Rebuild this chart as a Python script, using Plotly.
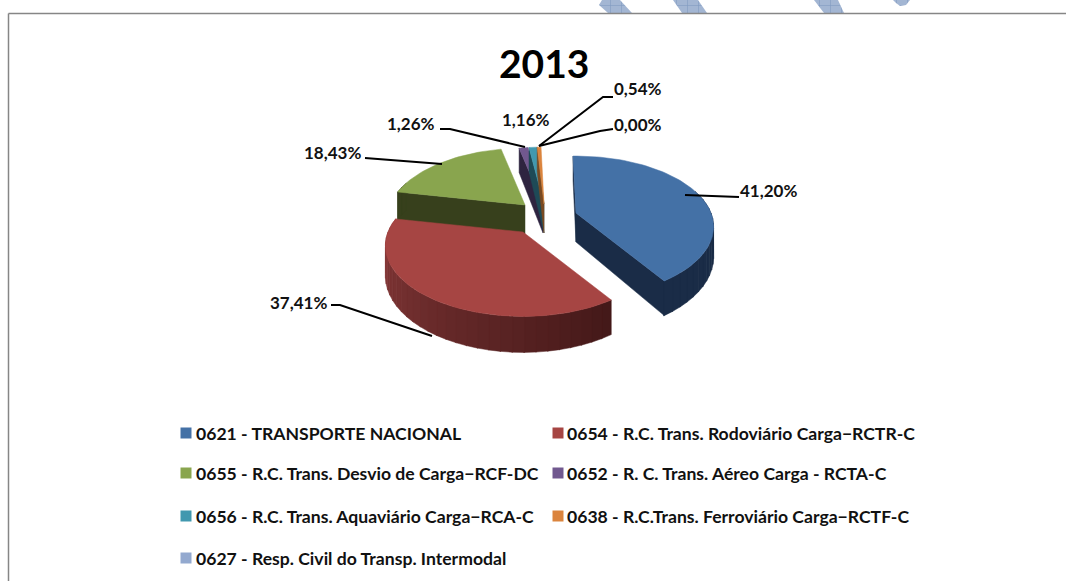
import math
import plotly.graph_objects as go

categories = ["0621 - TRANSPORTE NACIONAL", "0654 - R.C. Trans. Rodoviário Carga−RCTR-C",
              "0655 - R.C. Trans. Desvio de Carga−RCF-DC", "0652 - R. C. Trans. Aéreo Carga - RCTA-C",
              "0656 - R.C. Trans. Aquaviário Carga−RCA-C", "0638 - R.C.Trans. Ferroviário Carga−RCTF-C",
              "0627 - Resp. Civil do Transp. Intermodal"]
values = [41.20, 37.41, 18.43, 1.26, 1.16, 0.54, 0.00]
value_labels = ["41,20%", "37,41%", "18,43%", "1,26%", "1,16%", "0,54%", "0,00%"]
colors = ["#4471a6", "#a64543", "#89a54e", "#71588f", "#4198af", "#db843d", "#93a9cf"]
dark = ["#1a2c47", "#431818", "#37401c", "#2e2440", "#1e4a57", "#7a4a22", "#3c4660"]
wall_left = ["#1a2c47", "#8f3d3d", "#37401c", "#2e2440", "#1e4a57", "#7a4a22", "#3c4660"]
title = "2013"

# projection of the 3-D pie
apex = [(576, 213), (523, 232), (525, 205), (543, 204), (544, 204), (544, 204), (545, 204)]
R, RY, P, DEPTH, START = 135, 68, 0.1945, 29, -1.5
FONT = "Lato"


def proj(i, deg, down=False):
    t = math.radians(deg)
    u, v = math.sin(t), math.cos(t)
    s = 1 / (1 + P * v)
    cx, cy = apex[i]
    return cx + R * u * s, cy - RY * v * s + (DEPTH * s if down else 0)


def hexmix(a, b, f):
    ca = [int(a[k:k + 2], 16) for k in (1, 3, 5)]
    cb = [int(b[k:k + 2], 16) for k in (1, 3, 5)]
    return "#" + "".join(f"{round(x + (y - x) * f):02x}" for x, y in zip(ca, cb))


fig = go.Figure()


def poly(pts, color):
    fig.add_trace(go.Scatter(x=[p[0] for p in pts] + [pts[0][0]], y=[p[1] for p in pts] + [pts[0][1]],
                             mode="lines", fill="toself", fillcolor=color,
                             line=dict(color=color, width=0.5), hoverinfo="skip", showlegend=False))


# cumulative angles
angles = [START]
for val in values:
    angles.append(angles[-1] + val * 3.6)

for i in [2, 3, 4, 5, 0, 1]:
    a0, a1 = angles[i], angles[i + 1]
    ax, ay = apex[i]
    # cut faces
    if math.sin(math.radians(a0)) < 0:
        poly([(ax, ay), proj(i, a0), proj(i, a0, True), (ax, ay + DEPTH)], dark[i])
    if math.sin(math.radians(a1)) > 0:
        poly([(ax, ay), proj(i, a1), proj(i, a1, True), (ax, ay + DEPTH)], dark[i])
    # outer wall, front part only, shaded by position
    lo, hi = max(a0, 70), min(a1, 290)
    if hi > lo:
        n = max(2, int((hi - lo) / 4))
        for k in range(n):
            d0 = lo + (hi - lo) * k / n
            d1 = lo + (hi - lo) * (k + 1) / n + 0.3
            col = hexmix(dark[i], wall_left[i], (k + 0.5) / n)
            poly([proj(i, d0), proj(i, d1), proj(i, d1, True), proj(i, d0, True)], col)
    # top face
    m = max(4, int((a1 - a0) / 2))
    arc = [proj(i, a0 + (a1 - a0) * k / m) for k in range(m + 1)]
    poly([(ax, ay)] + arc, colors[i])

# legend
leg_pos = [(186, 433), (558, 433), (186, 473), (558, 473), (186, 516), (558, 516), (186, 558)]
for (x, y), c, name in zip(leg_pos, colors, categories):
    fig.add_trace(go.Scatter(x=[x], y=[y], mode="markers", hoverinfo="skip", showlegend=False,
                             marker=dict(symbol="square", size=11, color=c)))
    fig.add_annotation(x=x + (8 if x < 300 else 7), y=y, text=f"<b>{name}</b>", showarrow=False, xanchor="left",
                       xref="x", yref="y", font=dict(family=FONT, size=17.6, color="#111111"))

# value labels
lab_pos = [(768, 190), (298, 302), (332, 152), (411, 123), (526, 119), (638, 88), (638, 124)]
for (x, y), t in zip(lab_pos, value_labels):
    fig.add_annotation(x=x, y=y, text=f"<b>{t}</b>", showarrow=False, xref="x", yref="y",
                       font=dict(family=FONT, size=17, color="#111111"))

# leader lines
leaders = [[(685, 195), (717, 196), (739, 197)],
           [(331, 305), (340, 305), (432, 336)],
           [(365, 158), (442, 164)],
           [(440, 129), (450, 129), (525, 147)],
           [(613, 97), (603, 97), (539, 146)],
           [(613, 129), (600, 131), (539, 146)]]
for pts in leaders:
    fig.add_trace(go.Scatter(x=[p[0] for p in pts], y=[p[1] for p in pts], mode="lines",
                             line=dict(color="#000000", width=2), hoverinfo="skip", showlegend=False))

fig.add_annotation(x=544, y=63, text=f"<b>{title}</b>", showarrow=False, xref="x", yref="y",
                   font=dict(family=FONT, size=39, color="#000000"))

# hatched strokes cut off by the top of the frame
strokes = [[(602, 0), (620, 0), (632, 13), (608, 13), (599, 5)],
           [(673, 0), (698, 0), (707, 13), (682, 13)],
           [(814, 0), (838, 0), (844, 13), (824, 13)],
           [(893, 0), (910, 0), (906, 5), (900, 6), (896, 3)]]
for pts in strokes:
    fig.add_trace(go.Scatter(x=[p[0] for p in pts] + [pts[0][0]], y=[p[1] for p in pts] + [pts[0][1]],
                             mode="lines", fill="toself", line=dict(width=0), hoverinfo="skip", showlegend=False,
                             fillpattern=dict(shape="+", bgcolor="#a3b6d3", fgcolor="#5b7cad", size=11, solidity=0.1)))

# frame
fig.add_shape(type="line", x0=8.5, x1=1066, y0=13.5, y1=13.5, line=dict(color="#868686", width=1.5))
fig.add_shape(type="line", x0=8.5, x1=8.5, y0=13.5, y1=581, line=dict(color="#868686", width=1.5))

fig.update_layout(width=1066, height=581, margin=dict(l=0, r=0, t=0, b=0), autosize=False,
                  paper_bgcolor="white", plot_bgcolor="white",
                  xaxis=dict(range=[0, 1066], visible=False, fixedrange=True),
                  yaxis=dict(range=[581, 0], visible=False, fixedrange=True))
fig.write_html("out.html", config={"displayModeBar": False},
               post_script="document.body.style.margin='0';document.body.style.overflow='hidden';")
